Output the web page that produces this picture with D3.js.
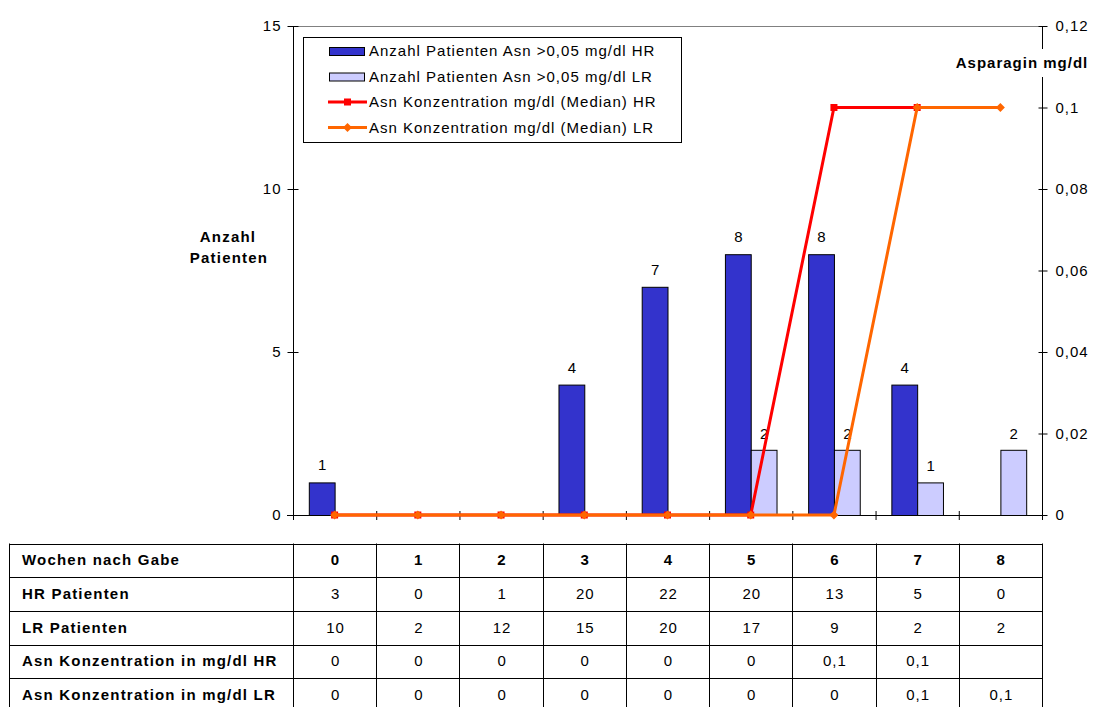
<!DOCTYPE html>
<html>
<head>
<meta charset="utf-8">
<script src="https://cdn.jsdelivr.net/npm/d3@7"></script>
<style>
  html, body { margin: 0; padding: 0; background: #fff; }
  svg { display: block; }
  .reg { font-family: "Liberation Sans", Arial, sans-serif; font-size: 15px; letter-spacing: 1px; fill: #000; }
  .bold { font-family: "Liberation Sans", Arial, sans-serif; font-size: 15px; font-weight: bold; letter-spacing: 1.2px; fill: #000; }
</style>
</head>
<body>
<svg id="chart" width="1093" height="707"></svg>
<script>
// Weeks after administration
const weeks = [0, 1, 2, 3, 4, 5, 6, 7, 8];
// Number of patients with Asn > 0.05 mg/dl
const hrCount = [1, 0, 0, 4, 7, 8, 8, 4, 0];
const lrCount = [0, 0, 0, 0, 0, 2, 2, 1, 2];
// Median Asn concentration (mg/dl)
const hrAsn = [0, 0, 0, 0, 0, 0, 0.1, 0.1, null];
const lrAsn = [0, 0, 0, 0, 0, 0, 0, 0.1, 0.1];
// Patient totals per week
const hrPatients = [3, 0, 1, 20, 22, 20, 13, 5, 0];
const lrPatients = [10, 2, 12, 15, 20, 17, 9, 2, 2];
// Axis ticks
const leftTicks = [0, 5, 10, 15];
const rightTicks = [0, 0.02, 0.04, 0.06, 0.08, 0.1, 0.12];

const legendLabels = [
  "Anzahl Patienten Asn >0,05 mg/dl HR",
  "Anzahl Patienten Asn >0,05 mg/dl LR",
  "Asn Konzentration mg/dl (Median) HR",
  "Asn Konzentration mg/dl (Median) LR"
];
const rowLabels = [
  "Wochen nach Gabe",
  "HR Patienten",
  "LR Patienten",
  "Asn Konzentration in mg/dl HR",
  "Asn Konzentration in mg/dl LR"
];

const colHR = "#3333CC", colLR = "#CCCCFF", colRed = "#FF0000", colOrange = "#FF6600";

const svg = d3.select("#chart");
const pLeft = 293, pRight = 1042, pTop = 26, pBottom = 515;

const x = d3.scaleBand().domain(weeks).range([pLeft, pRight]).padding(0);
const bw = x.bandwidth();
const cx = d => x(d) + bw / 2;
const y = d3.scaleLinear().domain([0, 15]).range([pBottom, pTop]);
const y2 = d3.scaleLinear().domain([0, 0.12]).range([pBottom, pTop]);
const comma = v => String(+v.toFixed(2)).replace(".", ",");

// plot area top border
svg.append("line").attr("x1", pLeft).attr("x2", pRight).attr("y1", pTop + 0.5).attr("y2", pTop + 0.5)
  .attr("stroke", "#808080").attr("stroke-width", 1);

// bars
const barW = bw * 0.31;
svg.append("g").selectAll("rect").data(weeks.filter(w => hrCount[w] > 0)).join("rect")
  .attr("x", w => cx(w) - barW + 0.5).attr("y", w => y(hrCount[w]) + 0.5)
  .attr("width", barW).attr("height", w => y(0) - y(hrCount[w]))
  .attr("fill", colHR).attr("stroke", "#000").attr("stroke-width", 1);
svg.append("g").selectAll("rect").data(weeks.filter(w => lrCount[w] > 0)).join("rect")
  .attr("x", w => cx(w) + 0.5).attr("y", w => y(lrCount[w]) + 0.5)
  .attr("width", barW).attr("height", w => y(0) - y(lrCount[w]))
  .attr("fill", colLR).attr("stroke", "#000").attr("stroke-width", 1);

// bar value labels
svg.append("g").selectAll("text").data(weeks.filter(w => hrCount[w] > 0)).join("text")
  .attr("class", "reg").attr("text-anchor", "middle")
  .attr("x", w => cx(w) - barW / 2 + 1).attr("y", w => y(hrCount[w]) - 12)
  .text(w => hrCount[w]);
svg.append("g").selectAll("text").data(weeks.filter(w => lrCount[w] > 0)).join("text")
  .attr("class", "reg").attr("text-anchor", "middle")
  .attr("x", w => cx(w) + barW / 2 + 1).attr("y", w => y(lrCount[w]) - 11)
  .text(w => lrCount[w]);

// left axis
const gl = svg.append("g").attr("transform", `translate(${pLeft + 0.5},0)`)
  .call(d3.axisLeft(y).tickValues(leftTicks).tickSize(6).tickPadding(6).tickFormat(d3.format("d")));
gl.select(".domain").attr("d", `M0,${pTop}V${pBottom + 5}`).attr("stroke", "#000");
gl.selectAll(".tick line").attr("x1", 5).attr("stroke", "#000");
gl.selectAll(".tick text").attr("class", "reg");
gl.attr("font-family", null).attr("font-size", null);

// x axis line with category boundary ticks
const gx = svg.append("g");
gx.append("line").attr("x1", pLeft - 6).attr("x2", pRight + 4).attr("y1", pBottom + 0.5).attr("y2", pBottom + 0.5)
  .attr("stroke", "#000");
gx.selectAll("line.tk").data(weeks.map(w => x(w)).concat([x.range()[1]])).join("line").attr("class", "tk")
  .attr("x1", d => d + 0.5).attr("x2", d => d + 0.5).attr("y1", pBottom - 4).attr("y2", pBottom + 5)
  .attr("stroke", "#000");

// right axis
const gr = svg.append("g").attr("transform", `translate(${pRight + 0.5},0)`)
  .call(d3.axisRight(y2).tickValues(rightTicks).tickSize(5).tickPadding(8).tickFormat(comma));
gr.select(".domain").attr("d", `M0,${pTop}V${pBottom + 5}`).attr("stroke", "#000");
gr.selectAll(".tick line").attr("x1", -4).attr("stroke", "#000");
gr.selectAll(".tick text").attr("class", "reg");
gr.attr("font-family", null).attr("font-size", null);

// lines (HR first, LR on top)
function drawSeries(vals, color, marker) {
  const pts = weeks.filter(w => vals[w] !== null);
  const line = d3.line().x(w => cx(w)).y(w => y2(vals[w]));
  svg.append("path").datum(pts).attr("d", line).attr("fill", "none")
    .attr("stroke", color).attr("stroke-width", 3).attr("stroke-linejoin", "miter");
  const g = svg.append("g");
  if (marker === "square") {
    g.selectAll("rect").data(pts).join("rect")
      .attr("x", w => cx(w) - 3.5).attr("y", w => y2(vals[w]) - 3.5)
      .attr("width", 7).attr("height", 7).attr("fill", color);
  } else {
    g.selectAll("path").data(pts).join("path")
      .attr("d", w => `M${cx(w)},${y2(vals[w]) - 4.5}l4.5,4.5l-4.5,4.5l-4.5,-4.5z`)
      .attr("fill", color);
  }
}
drawSeries(hrAsn, colRed, "square");
drawSeries(lrAsn, colOrange, "diamond");

// axis titles
const at = svg.append("g");
at.append("text").attr("class", "bold").attr("text-anchor", "middle").attr("x", 228).attr("y", 242).text("Anzahl");
at.append("text").attr("class", "bold").attr("text-anchor", "middle").attr("x", 229).attr("y", 263).text("Patienten");
at.append("rect").attr("x", 953).attr("y", 49).attr("width", 138).attr("height", 28).attr("fill", "#fff");
at.append("text").attr("class", "bold").style("letter-spacing", "1px").attr("text-anchor", "middle")
  .attr("x", 1022).attr("y", 68).text("Asparagin mg/dl");

// legend
const lg = svg.append("g");
lg.append("rect").attr("x", 303.5).attr("y", 37.5).attr("width", 378).attr("height", 105)
  .attr("fill", "#fff").attr("stroke", "#000");
const rowY = i => 51 + i * 25.5;
lg.selectAll("text").data(legendLabels).join("text").attr("class", "reg")
  .attr("x", 369).attr("y", (d, i) => rowY(i) + 5).text(d => d);
[colHR, colLR].forEach((c, i) => {
  lg.append("rect").attr("x", 329.5).attr("y", rowY(i) - 3.5).attr("width", 35).attr("height", 8)
    .attr("fill", c).attr("stroke", "#000");
});
lg.append("line").attr("x1", 328).attr("x2", 367).attr("y1", rowY(2)).attr("y2", rowY(2))
  .attr("stroke", colRed).attr("stroke-width", 3);
lg.append("rect").attr("x", 344).attr("y", rowY(2) - 3.5).attr("width", 7).attr("height", 7).attr("fill", colRed);
lg.append("line").attr("x1", 328).attr("x2", 367).attr("y1", rowY(3)).attr("y2", rowY(3))
  .attr("stroke", colOrange).attr("stroke-width", 3);
lg.append("path").attr("d", `M347.5,${rowY(3) - 4.5}l4.5,4.5l-4.5,4.5l-4.5,-4.5z`).attr("fill", colOrange);

// data table
const tbl = svg.append("g");
const tLeft = 9, tTop = 543.5, rowH = 33.7;
const rows = [
  weeks.map(String),
  hrPatients.map(String),
  lrPatients.map(String),
  hrAsn.map(v => v === null ? "" : comma(v)),
  lrAsn.map(v => v === null ? "" : comma(v))
];
for (let r = 0; r <= rows.length; r++) {
  tbl.append("line").attr("x1", tLeft).attr("x2", pRight + 0.5)
    .attr("y1", Math.round(tTop + r * rowH) + 0.5).attr("y2", Math.round(tTop + r * rowH) + 0.5)
    .attr("stroke", "#000");
}
const colEdges = [tLeft].concat(weeks.map(w => x(w))).concat([x.range()[1]]);
tbl.selectAll("line.v").data(colEdges).join("line").attr("class", "v")
  .attr("x1", d => Math.round(d) + 0.5).attr("x2", d => Math.round(d) + 0.5)
  .attr("y1", tTop).attr("y2", tTop + rows.length * rowH + 1)
  .attr("stroke", "#000");
rowLabels.forEach((lab, r) => {
  tbl.append("text").attr("class", "bold").attr("x", 22).attr("y", tTop + r * rowH + rowH / 2 + 5).text(lab);
  rows[r].forEach((v, c) => {
    tbl.append("text").attr("class", r === 0 ? "bold" : "reg").attr("text-anchor", "middle")
      .attr("x", cx(weeks[c]) + 1).attr("y", tTop + r * rowH + rowH / 2 + 5).text(v);
  });
});
</script>
</body>
</html>
